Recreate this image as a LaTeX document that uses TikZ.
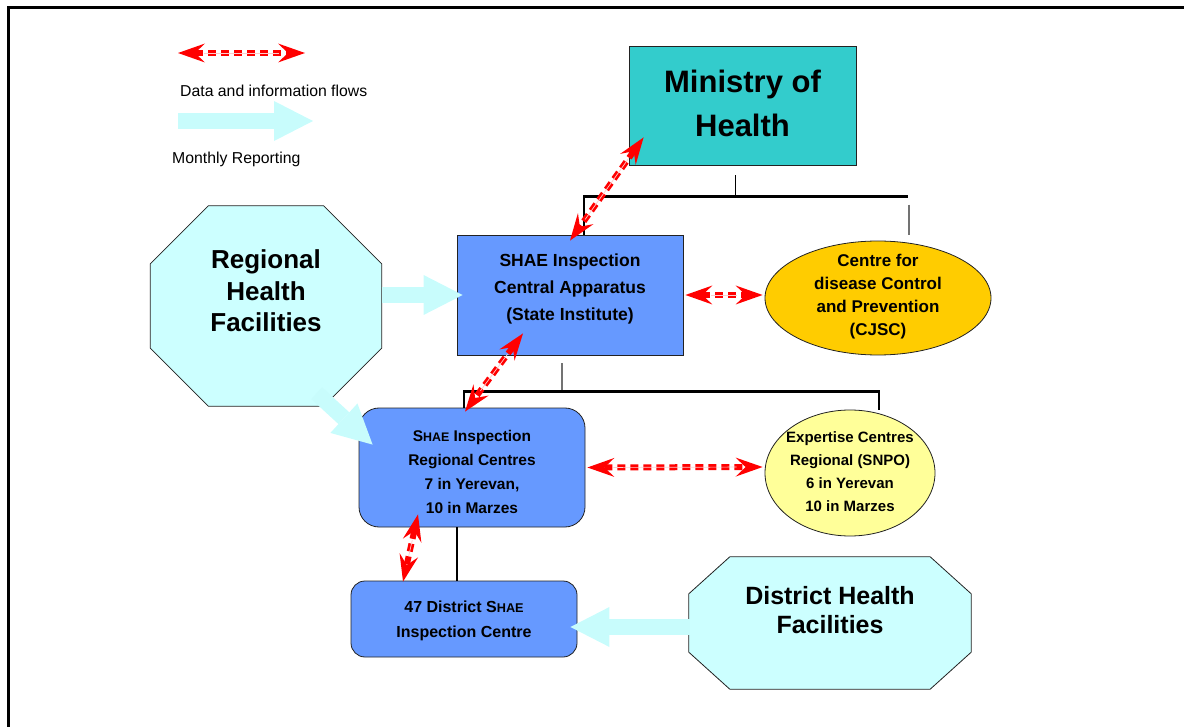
\documentclass[tikz,border=0pt]{standalone}
\usepackage{fontspec}
\setmainfont{Liberation Sans}
\usetikzlibrary{arrows.meta,calc,shapes.geometric}
\definecolor{minfill}{HTML}{33CCCC}
\definecolor{boxfill}{HTML}{6699FF}
\definecolor{cdcfill}{HTML}{FFCC00}
\definecolor{expfill}{HTML}{FFFF99}
\definecolor{facfill}{HTML}{CCFFFF}
\definecolor{repcol}{HTML}{C8FCFC}
\definecolor{edgecol}{HTML}{222222}
\definecolor{flowred}{HTML}{FF0000}
\newcommand{\setfs}[2]{\fontsize{#1}{#2}\selectfont}
\newcommand{\shaesc}[1]{S{\fontsize{#1}{#1}\selectfont HAE}}
\begin{document}
\begin{tikzpicture}[x=1pt,y=-1pt,
  shapebox/.style={draw=edgecol, line width=0.8pt, inner sep=0pt},
  lbl/.style={align=center, inner sep=0pt},
  flow/.style={draw=flowred, line width=6pt, dash pattern=on 8pt off 5pt,
    {Stealth[length=27pt,width=19pt,inset=10pt,line width=0pt]}-{Stealth[length=27pt,width=19pt,inset=10pt,line width=0pt]},
    postaction={draw=white!80!red, line width=0.7pt, solid, arrows=-, shorten <=26pt, shorten >=26pt}},
  report/.style={draw=repcol, line width=16pt, -{Triangle[length=39pt,width=40pt,line width=0pt]}},
  trunk/.style={line width=2.6pt, black},
  twig/.style={line width=1.2pt, black},
  greytwig/.style={line width=1.5pt, black!55}]
\useasboundingbox (0,0) rectangle (1184,727);
\draw[line width=3pt] (8,740) -- (8,8) -- (1200,8);

% ---------- shapes ----------
\node[shapebox, rectangle, fill=minfill, minimum width=227pt, minimum height=119pt] (ministry) at (742.5,105.5) {};
\node[lbl, font=\bfseries\setfs{31}{44}] (ministry-t) at (742.5,103) {Ministry of\\Health};

\node[shapebox, rectangle, fill=boxfill, minimum width=226pt, minimum height=120pt] (shae) at (570,295) {};
\node[lbl, font=\bfseries\setfs{17.5}{27}] (shae-t) at (570,289) {SHAE Inspection\\Central Apparatus\\(State Institute)};

\node[shapebox, ellipse, fill=cdcfill, minimum width=226pt, minimum height=114pt] (cdc) at (878,298) {};
\node[lbl, font=\bfseries\setfs{17}{23}] (cdc-t) at (878,297) {Centre for\\disease Control\\and Prevention\\(CJSC)};

\node[rectangle, inner sep=0pt, minimum width=231pt, minimum height=200pt] (reg) at (266,306) {};
\filldraw[fill=facfill, draw=edgecol, line width=0.8pt]
  ($(reg.north west)+(58,0)$) -- ($(reg.north east)+(-58,0)$) -- ($(reg.north east)+(0,58)$)
  -- ($(reg.south east)+(0,-58)$) -- ($(reg.south east)+(-58,0)$) -- ($(reg.south west)+(58,0)$)
  -- ($(reg.south west)+(0,-58)$) -- ($(reg.north west)+(0,58)$) -- cycle;
\node[lbl, font=\bfseries\setfs{26}{31.5}] (reg-t) at (266,291) {Regional\\Health\\Facilities};

\node[shapebox, rectangle, rounded corners=20pt, fill=boxfill, minimum width=226pt, minimum height=119pt] (regc) at (472,467.5) {};
\node[lbl, font=\bfseries\setfs{15.5}{24}] (regc-t) at (472,472) {\shaesc{12.4} Inspection\\Regional Centres\\7 in Yerevan,\\10 in Marzes};

\node[shapebox, ellipse, fill=expfill, minimum width=170pt, minimum height=126pt] (exp) at (850,473) {};
\node[lbl, font=\bfseries\setfs{15}{23}] (exp-t) at (850,471.5) {Expertise Centres\\Regional (SNPO)\\6 in Yerevan\\10 in Marzes};

\node[shapebox, rectangle, rounded corners=14pt, fill=boxfill, minimum width=226pt, minimum height=76pt] (dist) at (464,619) {};
\node[lbl, font=\bfseries\setfs{16}{25}] (dist-t) at (464,621) {47 District \shaesc{12.7}\\Inspection Centre};

\node[rectangle, inner sep=0pt, minimum width=282pt, minimum height=132pt] (dfac) at (830,623) {};
\filldraw[fill=facfill, draw=edgecol, line width=0.8pt]
  ($(dfac.north west)+(41,0)$) -- ($(dfac.north east)+(-41,0)$) -- ($(dfac.north east)+(0,37)$)
  -- ($(dfac.south east)+(0,-37)$) -- ($(dfac.south east)+(-41,0)$) -- ($(dfac.south west)+(41,0)$)
  -- ($(dfac.south west)+(0,-37)$) -- ($(dfac.north west)+(0,37)$) -- cycle;
\node[lbl, font=\bfseries\setfs{25}{29}] (dfac-t) at (830,610) {District Health\\Facilities};

% ---------- tree lines ----------
\draw[twig] ($(ministry.south)+(-7,10)$) -- ($(ministry.south)+(-7,32)$);
\draw[trunk] ($(shae.north)+(14,0)$) |- ($(cdc.north)+(30,-44)$);
\draw[greytwig] ($(cdc.north)+(31,-36)$) -- ($(cdc.north)+(31,-6)$);
\draw[greytwig] ($(shae.south)+(-8,8)$) -- ($(shae.south)+(-8,37)$);
\draw[trunk] ($(regc.north)+(-8,0)$) |- ($(exp.north)+(29,-18)$) -- ($(exp.north)+(29,0)$);
\draw[trunk] ($(regc.south)+(-15,0)$) -- ($(dist.north)+(-7,0)$);

% ---------- monthly reporting arrows ----------
\draw[report] ($(reg.east)+(0,-11)$) -- ($(shae.west)+(6,0)$);
\draw[report] ($(reg.south east)+(-65,-13)$) -- ($(regc.north west)+(14,37)$);
\draw[report] ($(dfac.west)+(1,4)$) -- ($(dist.east)+(-7,8)$);

% ---------- data flows ----------
\draw[flow] ($(ministry.south west)+(15,-28)$) -- ($(shae.north)+(0,6)$);
\draw[flow] ($(shae.east)+(2,0)$) -- ($(cdc.west)+(-2,-3)$);
\draw[flow] ($(shae.south)+(-47,-22)$) -- ($(regc.north)+(-7,4)$);
\draw[flow] ($(regc.east)+(2,0)$) -- ($(exp.west)+(-2,-6)$);
\draw[flow] ($(regc.south)+(-54,-13)$) -- ($(dist.north)+(-61,1)$);

% ---------- legend ----------
\coordinate (lgA) at (178,53);
\coordinate (lgB) at (305,53);
\draw[flow] (lgA) -- (lgB);
\node[anchor=west, inner sep=0pt, font=\setfs{15.8}{19}] (lg1) at (180,91) {Data and information flows};
\coordinate (lgC) at (178,121);
\coordinate (lgD) at (313,121);
\draw[report] (lgC) -- (lgD);
\node[anchor=west, inner sep=0pt, font=\setfs{15.8}{19}] (lg2) at (172,159) {Monthly Reporting};
\end{tikzpicture}
\end{document}
